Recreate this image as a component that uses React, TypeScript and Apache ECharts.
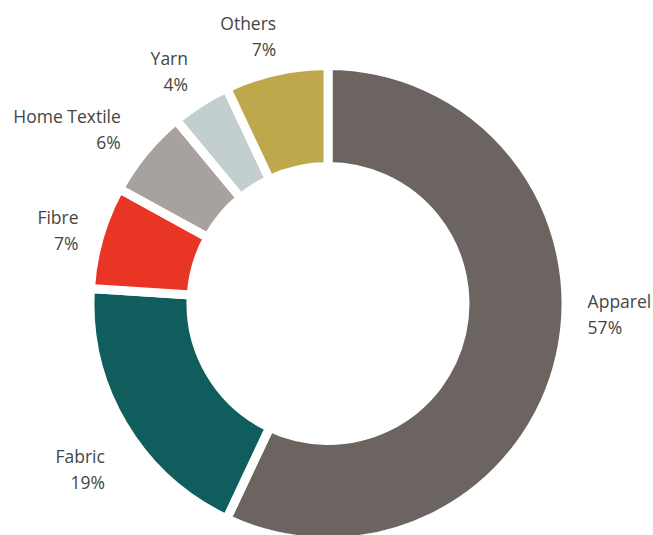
import React, { useEffect, useRef } from "react";
import * as echarts from "echarts";

const categories = ["Apparel", "Fabric", "Fibre", "Home Textile", "Yarn", "Others"];
const shares = [57, 19, 7, 6, 4, 7];
const colors = ["#6b6461", "#0f5e5d", "#e93523", "#a8a29f", "#c3cfcf", "#bfa84b"];
// label nudges [dx, dy] applied after the library's outside-label layout
const labelNudges = [[-4, -47], [10, 31], [10, 0], [2, -6], [7, -9], [11, -9]];

export default function App() {
  const ref = useRef<HTMLDivElement>(null);
  useEffect(() => {
    document.body.style.margin = "0";
    const chart = echarts.init(ref.current!, null, { renderer: "svg" });
    chart.setOption({
      animation: false,
      backgroundColor: "#ffffff",
      series: [
        {
          type: "pie",
          center: [328, 303.5],
          radius: [137, 238],
          startAngle: 90,
          clockwise: true,
          avoidLabelOverlap: false,
          itemStyle: { borderColor: "#ffffff", borderWidth: 9 },
          label: {
            show: true,
            position: "outside",
            formatter: (p: any) => `${p.name}\n${p.value}%`,
            fontFamily: "Open Sans",
            fontWeight: 400,
            fontSize: 17.5,
            lineHeight: 26,
            color: "#454545",
          },
          labelLine: { show: false, length: 27, length2: 0 },
          labelLayout: (params: any) => {
            const n = labelNudges[params.dataIndex] || [0, 0];
            return { dx: n[0], dy: n[1] };
          },
          emphasis: { disabled: true },
          data: categories.map((name, i) => ({
            name,
            value: shares[i],
            itemStyle: { color: colors[i] },
          })),
        },
      ],
    });
    return () => chart.dispose();
  }, []);
  return <div ref={ref} style={{ width: 653, height: 535 }} />;
}
